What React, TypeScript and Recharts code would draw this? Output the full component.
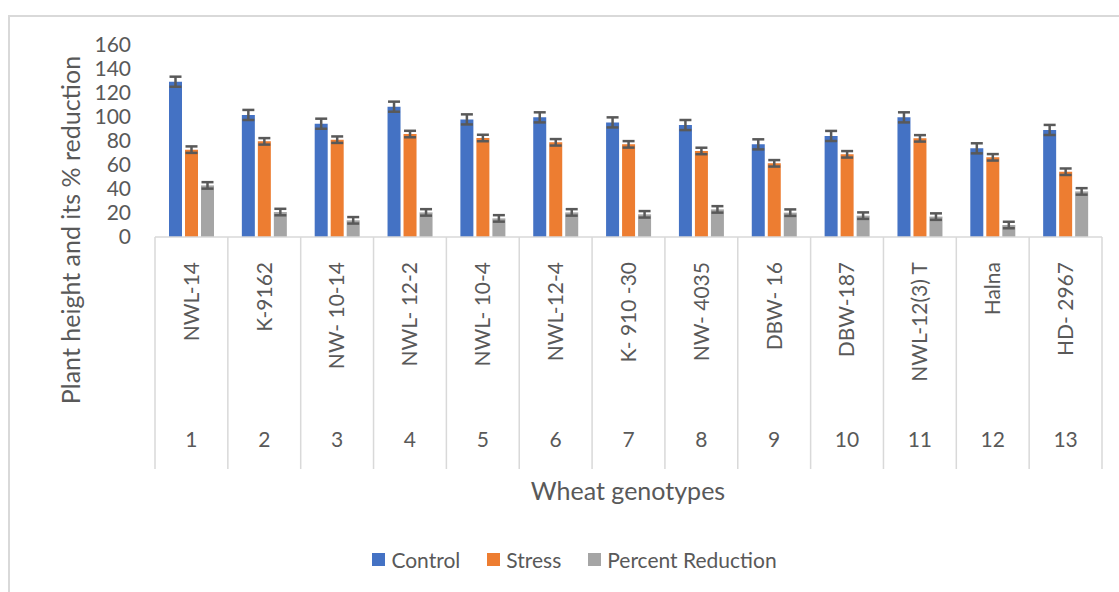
import React from 'react';
import { BarChart, Bar, XAxis, YAxis, ErrorBar, Legend, Customized } from 'recharts';

const categories = ['1', '2', '3', '4', '5', '6', '7', '8', '9', '10', '11', '12', '13'];
const genotypes = [
  'NWL-14', 'K-9162', 'NW- 10-14', 'NWL- 12-2', 'NWL- 10-4', 'NWL-12-4', 'K- 910 -30',
  'NW- 4035', 'DBW- 16', 'DBW-187', 'NWL-12(3) T', 'Halna', 'HD- 2967',
];
const seriesNames = ['Control', 'Stress', 'Percent Reduction'];
const control = [129.4, 101.7, 94.4, 108.6, 98, 99.7, 95.5, 93.3, 77.2, 84.2, 99.7, 73.9, 89.2];
const stress = [72.8, 79.7, 81.1, 85.8, 82.5, 78.9, 77.2, 71.7, 61.4, 68.9, 82.2, 66.4, 54.4];
const reduction = [43, 20.8, 13.9, 20.5, 15.5, 20.5, 18.9, 23, 20.3, 17.8, 17, 10, 38];
const controlErr = [4.2, 4.2, 4.2, 4.2, 4.2, 4.2, 4.2, 4.2, 4.2, 4.2, 4.2, 4.2, 4.2];
const stressErr = [2.7, 2.7, 2.7, 2.7, 2.7, 2.7, 2.7, 2.7, 2.7, 2.7, 2.7, 2.7, 2.7];
const reductionErr = [2.7, 2.7, 2.7, 2.7, 2.7, 2.7, 2.7, 2.7, 2.7, 2.7, 2.7, 2.7, 2.7];
const yTicks = [0, 20, 40, 60, 80, 100, 120, 140, 160];

const data = categories.map((c, i) => ({
  cat: c,
  name: genotypes[i],
  control: control[i],
  stress: stress[i],
  reduction: reduction[i],
  controlErr: controlErr[i],
  stressErr: stressErr[i],
  reductionErr: reductionErr[i],
}));

const TEXT = '#595959';
const GRID = '#d9d9d9';
const FONT = 'Lato, "Open Sans", sans-serif';

function CategoryTick(props: any) {
  const { x, y, payload } = props;
  const i = categories.indexOf(String(payload.value));
  const half = payload.offset ? payload.offset : 36.4;
  const ny = y + 25;
  return (
    <g>
      <line x1={x - half} y1={y} x2={x - half} y2={y + 232} stroke={GRID} strokeWidth={1.5} />
      {i === categories.length - 1 && (
        <line x1={x + half} y1={y} x2={x + half} y2={y + 232} stroke={GRID} strokeWidth={1.5} />
      )}
      <text
        x={x}
        y={ny}
        transform={`rotate(-90 ${x} ${ny})`}
        textAnchor="end"
        dy="0.35em"
        fill={TEXT}
        fontSize={21}
        fontFamily={FONT}
      >
        {genotypes[i]}
      </text>
      <text x={x} y={y + 210} textAnchor="middle" fill={TEXT} fontSize={21} fontFamily={FONT}>
        {payload.value}
      </text>
    </g>
  );
}

function renderLegend(props: any) {
  const payload = [...(props.payload || [])].sort(
    (a: any, b: any) => seriesNames.indexOf(a.value) - seriesNames.indexOf(b.value)
  );
  return (
    <div
      style={{
        display: 'flex',
        justifyContent: 'center',
        alignItems: 'center',
        gap: 27,
        fontFamily: FONT,
        fontSize: 21,
        color: TEXT,
      }}
    >
      {payload.map((p: any) => (
        <div key={p.value} style={{ display: 'flex', alignItems: 'center' }}>
          <span style={{ width: 13, height: 13, background: p.color, marginRight: 6, display: 'inline-block' }} />
          <span>{p.value}</span>
        </div>
      ))}
    </div>
  );
}

function Titles() {
  return (
    <g>
      <text
        x={70}
        y={230}
        transform="rotate(-90 70 230)"
        textAnchor="middle"
        dominantBaseline="central"
        fill={TEXT}
        fontSize={25}
        fontFamily={FONT}
      >
        Plant height and its % reduction
      </text>
      <text x={628} y={490} textAnchor="middle" dominantBaseline="central" fill={TEXT} fontSize={25} fontFamily={FONT}>
        Wheat genotypes
      </text>
    </g>
  );
}

export default function App() {
  return (
    <div style={{ position: 'absolute', left: 0, top: 0, width: 1119, height: 592, background: '#fff', overflow: 'hidden' }}>
      <div
        style={{
          position: 'absolute',
          left: 8,
          top: 15,
          width: 1111,
          height: 577,
          borderTop: `2px solid ${GRID}`,
          borderLeft: `2px solid ${GRID}`,
          boxSizing: 'border-box',
        }}
      />
      <div style={{ position: 'absolute', left: 0, top: 0 }}>
        <BarChart
          width={1119}
          height={592}
          data={data}
          margin={{ top: 45, right: 17, bottom: 122, left: 95 }}
          barGap={3}
          barSize={13}
        >
          <YAxis
            width={60}
            domain={[0, 160]}
            ticks={yTicks}
            interval={0}
            axisLine={false}
            tickLine={false}
            tickSize={0}
            tickMargin={24}
            tick={{ fill: TEXT, fontSize: 21, fontFamily: FONT }}
          />
          <XAxis
            dataKey="cat"
            height={233}
            interval={0}
            axisLine={{ stroke: GRID, strokeWidth: 1.5 }}
            tickLine={false}
            tickSize={0}
            tickMargin={0}
            tick={<CategoryTick />}
          />
          <Bar dataKey="control" name={seriesNames[0]} fill="#4472C4" isAnimationActive={false}>
            <ErrorBar dataKey="controlErr" stroke="#595959" strokeWidth={2.5} width={6} isAnimationActive={false} />
          </Bar>
          <Bar dataKey="stress" name={seriesNames[1]} fill="#ED7D31" isAnimationActive={false}>
            <ErrorBar dataKey="stressErr" stroke="#595959" strokeWidth={2.5} width={6} isAnimationActive={false} />
          </Bar>
          <Bar dataKey="reduction" name={seriesNames[2]} fill="#A5A5A5" isAnimationActive={false}>
            <ErrorBar dataKey="reductionErr" stroke="#595959" strokeWidth={2.5} width={6} isAnimationActive={false} />
          </Bar>
          <Legend
            layout="horizontal"
            verticalAlign="middle"
            align="center"
            content={renderLegend}
            wrapperStyle={{ top: 547, left: 15, width: 1119 }}
          />
          <Customized component={Titles} />
        </BarChart>
      </div>
    </div>
  );
}
